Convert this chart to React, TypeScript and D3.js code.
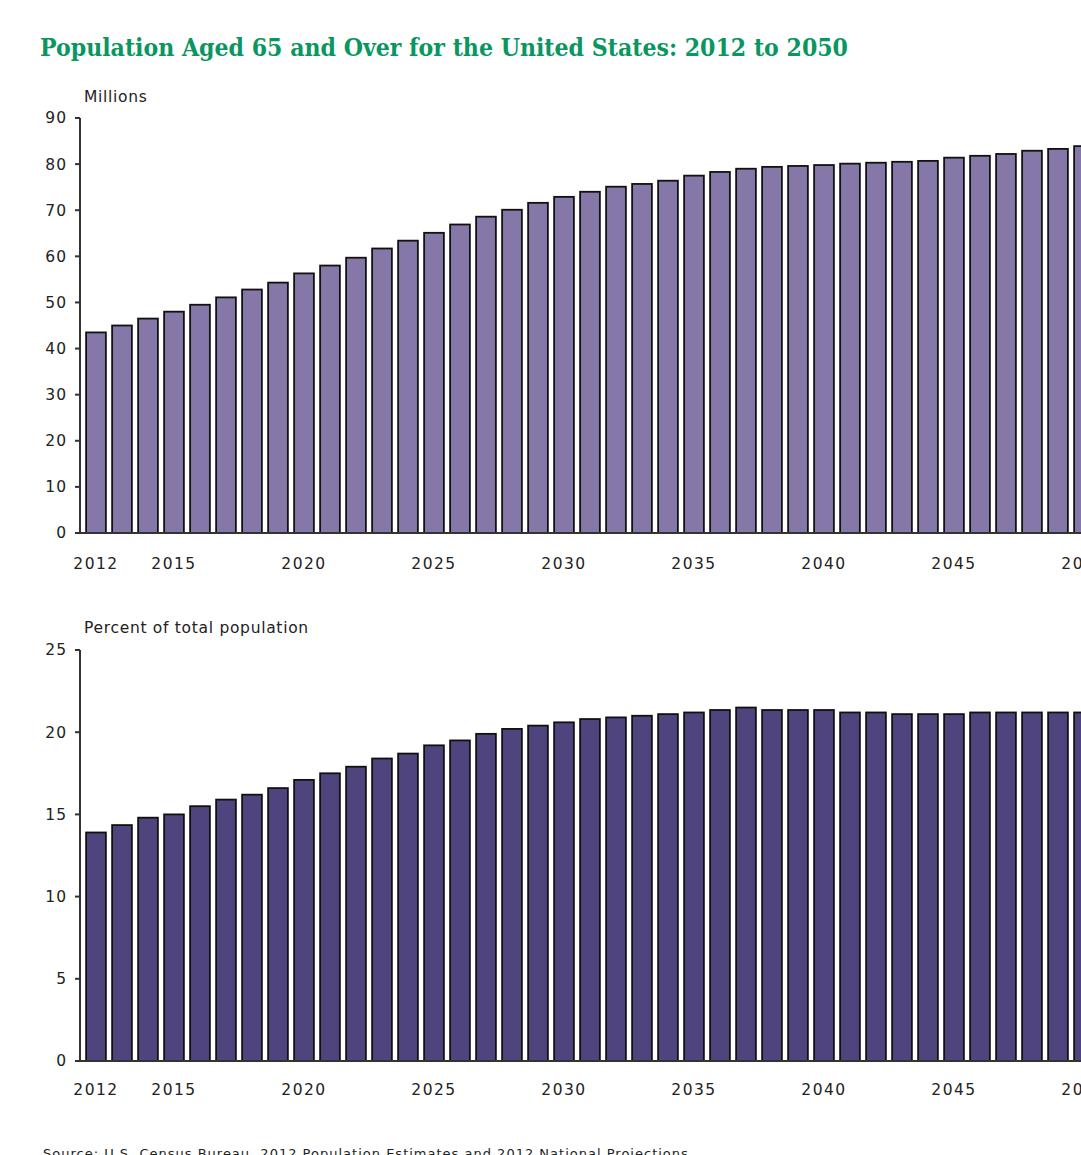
import React from "react";
import * as d3 from "d3";

const years: number[] = d3.range(2012, 2051);
const yearLabels: number[] = [2012, 2015, 2020, 2025, 2030, 2035, 2040, 2045, 2050];

const millions: number[] = [
  43.5, 45.0, 46.5, 48.0, 49.5, 51.1, 52.8, 54.3, 56.3, 58.0,
  59.7, 61.7, 63.4, 65.1, 66.9, 68.6, 70.1, 71.6, 72.9, 74.0,
  75.1, 75.7, 76.4, 77.5, 78.3, 79.0, 79.4, 79.6, 79.8, 80.1,
  80.3, 80.5, 80.7, 81.4, 81.8, 82.2, 82.9, 83.3, 83.9,
];

const percent: number[] = [
  13.9, 14.35, 14.8, 15.0, 15.5, 15.9, 16.2, 16.6, 17.1, 17.5,
  17.9, 18.4, 18.7, 19.2, 19.5, 19.9, 20.2, 20.4, 20.6, 20.8,
  20.9, 21.0, 21.1, 21.2, 21.35, 21.5, 21.35, 21.35, 21.35, 21.2,
  21.2, 21.1, 21.1, 21.1, 21.2, 21.2, 21.2, 21.2, 21.2,
];

const millionTicks: number[] = [0, 10, 20, 30, 40, 50, 60, 70, 80, 90];
const percentTicks: number[] = [0, 5, 10, 15, 20, 25];

const W = 1081;
const H = 1155;
const AXIS_X = 80;
const FONT = "'DejaVu Sans', Verdana, sans-serif";

type PanelProps = {
  values: number[];
  ticks: number[];
  max: number;
  top: number;
  base: number;
  fill: string;
  title: string;
  titleY: number;
  labelY: number;
};

function Panel({ values, ticks, max, top, base, fill, title, titleY, labelY }: PanelProps) {
  const x = d3
    .scaleBand<number>()
    .domain(years)
    .range([83, 83 + years.length * 26])
    .paddingInner(0.24)
    .paddingOuter(0.12);
  const y = d3.scaleLinear().domain([0, max]).range([base, top]);
  return (
    <g>
      <text x={84} y={titleY} fontFamily={FONT} fontSize={15.5} letterSpacing={0.7} fill="#222">
        {title}
      </text>
      {years.map((yr, i) => (
        <rect
          key={yr}
          x={x(yr)!}
          y={y(values[i])}
          width={x.bandwidth()}
          height={base - y(values[i])}
          fill={fill}
          stroke="#111"
          strokeWidth={1.8}
        />
      ))}
      <line x1={AXIS_X} x2={AXIS_X} y1={top} y2={base} stroke="#333" strokeWidth={2} />
      <line x1={AXIS_X - 1} x2={W} y1={base} y2={base} stroke="#333" strokeWidth={2} />
      {ticks.map((t) => (
        <g key={t}>
          <line x1={AXIS_X - 5} x2={AXIS_X} y1={y(t)} y2={y(t)} stroke="#333" strokeWidth={2} />
          <text
            x={67}
            y={y(t)}
            dy="0.35em"
            textAnchor="end"
            fontFamily={FONT}
            fontSize={15.5}
            letterSpacing={1}
            fill="#222"
          >
            {t}
          </text>
        </g>
      ))}
      {yearLabels.map((yr) => (
        <text
          key={yr}
          x={x(yr)! + x.bandwidth() / 2}
          y={labelY}
          dy="0.35em"
          textAnchor="middle"
          fontFamily={FONT}
          fontSize={15.5}
          letterSpacing={1.5}
          fill="#222"
        >
          {yr}
        </text>
      ))}
    </g>
  );
}

export default function App() {
  return (
    <svg
      width={W}
      height={H}
      style={{ position: "absolute", left: 0, top: 0, background: "#fff" }}
    >
      <rect width={W} height={H} fill="#fff" />
      <text
        x={40}
        y={56}
        fontFamily="'DejaVu Serif Condensed', 'DejaVu Serif', serif"
        fontWeight="bold"
        fontSize={25}
        fill="#0A9660"
        textLength={808}
        lengthAdjust="spacingAndGlyphs"
      >
        Population Aged 65 and Over for the United States: 2012 to 2050
      </text>
      <Panel
        values={millions}
        ticks={millionTicks}
        max={90}
        top={118}
        base={533}
        fill="#8577A8"
        title="Millions"
        titleY={102}
        labelY={564}
      />
      <Panel
        values={percent}
        ticks={percentTicks}
        max={25}
        top={650}
        base={1061}
        fill="#50447F"
        title="Percent of total population"
        titleY={633}
        labelY={1090}
      />
      <text x={43} y={1158} fontFamily={FONT} fontSize={13} fill="#222" textLength={650}>
        Source: U.S. Census Bureau, 2012 Population Estimates and 2012 National Projections.
      </text>
    </svg>
  );
}
